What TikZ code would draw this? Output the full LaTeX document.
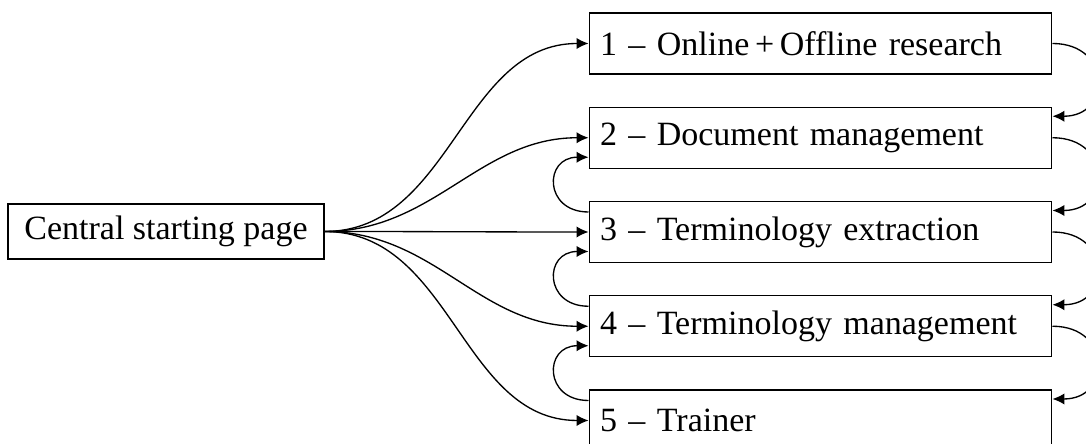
\documentclass[tikz,border=0pt]{standalone}
\usepackage{fontspec}
\setmainfont{Liberation Serif}
\usetikzlibrary{arrows.meta}

\tikzset{
  startbox/.style={draw, font=\fontsize{10.2pt}{12pt}\selectfont, minimum width=94.8pt, minimum height=16.5pt, inner sep=0pt},
  module/.style={draw, font=\fontsize{10.2pt}{12pt}\selectfont, text width=132.2pt, align=left, minimum height=18.3pt, inner sep=3.3pt},
  link/.style={-{Latex[length=3.6pt,width=3.4pt]}}
}

\begin{document}
\begin{tikzpicture}[x=0.3pt, y=-0.3pt]
        \useasboundingbox (0,0) rectangle (1086,444);

        % Start page
        \node[startbox] (start) at (166,231.5) {Central starting page};

        % Modules
        \node[module] (m1) at (820.5,43.5) {1 -- Online\,+\,Offline research};
        \node[module] (m2) at (820.5,137.75) {2 -- Document management};
        \node[module] (m3) at (820.5,232) {3 -- Terminology extraction};
        \node[module] (m4) at (820.5,326.25) {4 -- Terminology management};
        \node[module] (m5) at (820.5,420.5) {5 -- Trainer};

        % From the start page
        \foreach \i in {1,...,5}
            \draw[link] (start.east) to[out=0, in=180] (m\i.west);

        % Next module (right)
        \foreach \i/\j in {1/2, 2/3, 3/4, 4/5}
            \draw[link] (m\i.east) to[out=0, in=0, looseness=2.1] ([yshift=6.45pt]m\j.east);

        % Previous module (left)
        \foreach \i/\j in {2/3, 3/4, 4/5}
            \draw[link] ([yshift=6pt]m\j.west) to[out=180, in=180, looseness=2.1] ([yshift=-5.85pt]m\i.west);
\end{tikzpicture}
\end{document}
